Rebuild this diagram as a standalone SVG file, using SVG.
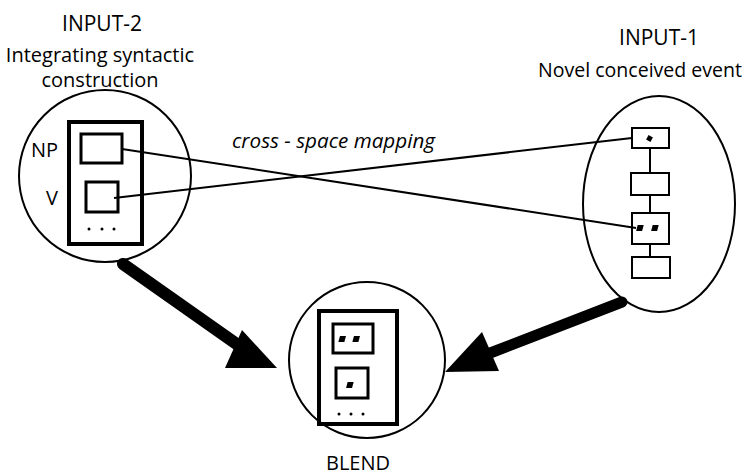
<svg xmlns="http://www.w3.org/2000/svg" width="746" height="475" viewBox="0 0 746 475">
<style>
text{font-family:"Open Sans","Noto Sans",sans-serif;font-size:20px;fill:#000}
.c{text-anchor:middle}
.h{font-size:21px}
.sp{fill:none;stroke:#000;stroke-width:2}
.fr{fill:none;stroke:#000;stroke-width:4}
.bx{fill:none;stroke:#000;stroke-width:3}
.sb{fill:#fff;stroke:#000;stroke-width:2}
.ln{stroke:#000;stroke-width:2;fill:none}
.dot{fill:#000}
.ar{stroke:#000;stroke-linecap:round}
</style>
<rect width="746" height="475" fill="#fff"/>
<g id="input2">
<circle class="sp" cx="105" cy="176" r="86"/>
<rect class="fr" x="69" y="122" width="73" height="122"/>
<rect class="bx" x="81" y="134" width="41" height="29"/>
<rect class="bx" x="86" y="182" width="32" height="30"/>
<circle class="dot" cx="89" cy="229" r="1.5"/>
<circle class="dot" cx="102" cy="229" r="1.5"/>
<circle class="dot" cx="114" cy="229" r="1.5"/>
<text x="31" y="157">NP</text>
<text x="46" y="205">V</text>
<text class="c h" x="102" y="31">INPUT-2</text>
<text class="c" x="100" y="62">Integrating syntactic</text>
<text class="c" x="100" y="87">construction</text>
</g>
<g id="input1">
<ellipse class="sp" cx="659" cy="204" rx="76" ry="108"/>
<line class="ln" x1="650" y1="148" x2="650" y2="257"/>
<rect class="sb" x="632" y="128" width="37" height="20"/>
<rect class="sb" x="631" y="173" width="38" height="22"/>
<rect class="sb" x="632" y="213" width="37" height="31"/>
<rect class="sb" x="632" y="257" width="38" height="21"/>
<line class="ln" x1="650" y1="244" x2="650" y2="257"/>
<rect class="dot" x="647" y="136" width="5" height="5" transform="rotate(30 649.5 138.5)"/>
<rect class="dot" x="637" y="225" width="6" height="6" transform="skewX(-15) translate(61 0)"/>
<rect class="dot" x="652" y="225" width="6" height="6" transform="skewX(-15) translate(61 0)"/>
<text class="c h" x="659" y="45">INPUT-1</text>
<text class="c" x="640" y="77" textLength="204" lengthAdjust="spacingAndGlyphs">Novel conceived event</text>
</g>
<g id="blend">
<circle class="sp" cx="367" cy="360" r="78"/>
<rect class="fr" x="319" y="311" width="78" height="113"/>
<rect class="bx" x="333" y="324" width="40" height="29"/>
<rect class="bx" x="336" y="368" width="32" height="30"/>
<rect class="dot" x="340" y="336" width="6" height="6" transform="skewX(-15) translate(90 0)"/>
<rect class="dot" x="354" y="336" width="6" height="6" transform="skewX(-15) translate(90 0)"/>
<rect class="dot" x="347" y="382" width="6" height="6" transform="skewX(-15) translate(103 0)"/>
<circle class="dot" cx="339" cy="414" r="1.5"/>
<circle class="dot" cx="351" cy="414" r="1.5"/>
<circle class="dot" cx="363" cy="414" r="1.5"/>
<text class="c" x="358" y="470">BLEND</text>
</g>
<g id="connectors">
<line class="ln" x1="122" y1="149" x2="636" y2="228"/>
<line class="ln" x1="114" y1="198" x2="632" y2="138"/>
<text x="232" y="148" style="font-style:italic" textLength="203" lengthAdjust="spacingAndGlyphs">cross - space mapping</text>
<line class="ar" x1="123" y1="264" x2="238" y2="345" stroke-width="12"/>
<polygon points="277,368 242,330 225,368"/>
<line class="ar" x1="622" y1="302" x2="485" y2="355" stroke-width="11"/>
<polygon points="445,372 482,332 499,371"/>
</g>
</svg>
